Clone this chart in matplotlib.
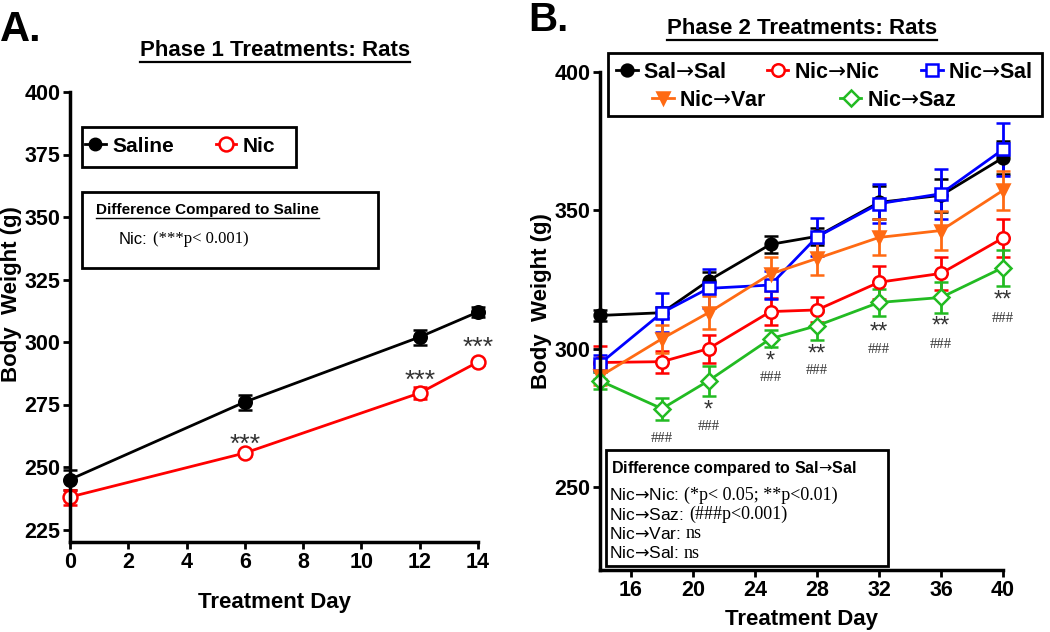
import matplotlib
matplotlib.use('Agg')
import matplotlib.pyplot as plt
from matplotlib.patches import Rectangle
from matplotlib.lines import Line2D

plt.rcParams['font.family'] = ['Liberation Sans', 'DejaVu Sans']
plt.rcParams['mathtext.fontset'] = 'dejavusans'

ARR = '$\u2192$'

# ---- Phase 1 data ----
days_a = [0, 6, 12, 14]
saline = [245, 276, 302, 312]
saline_err = [4, 3, 3, 2]
nic = [238, 255.6, 279.6, 292]
nic_err = [3, 1, 2.5, 1]
stars_a = ['', '***', '***', '***']
stars_a_y = [0, 259, 284.5, 297.5]

# ---- Phase 2 data ----
days_b = [14, 18, 21, 25, 28, 32, 36, 40]
sal_sal = [312, 313, 324.6, 337.7, 340.6, 352.9, 355.4, 369]
sal_sal_err = [2, 2, 3, 3, 3, 6, 6, 6]
nic_nic = [295, 295.3, 300, 313.4, 314, 324, 327.2, 340]
nic_nic_err = [6, 4, 5, 5, 4.5, 6, 6, 7]
nic_sal = [294.6, 313, 321.8, 323, 340.4, 352.4, 356, 372]
nic_sal_err = [3, 7, 7, 5, 7, 7, 9, 9.5]
nic_var = [290, 303.6, 313, 327, 332.6, 340.2, 342.7, 357.2]
nic_var_err = [3, 5, 6, 6, 6, 6.5, 7, 7]
nic_saz = [288.4, 278.3, 288.4, 303.6, 308.3, 316.7, 318.5, 329.3]
nic_saz_err = [3, 4, 5.5, 3, 5, 5, 5.5, 6.5]
stars_b = ['', '', '*', '*', '**', '**', '**', '**']
stars_b_y = [0, 0, 277.5, 295.5, 298, 306, 308, 317.5]
hash_b = ['', '###', '###', '###', '###', '###', '###', '###']
hash_b_y = [0, 267.7, 271.7, 289.5, 292, 299.6, 301.5, 311]

fig = plt.figure(figsize=(10.5, 6.32), dpi=100)


def style_axes(ax):
    for s in ['top', 'right']:
        ax.spines[s].set_visible(False)
    for s in ['left', 'bottom']:
        ax.spines[s].set_linewidth(2.5)
    ax.tick_params(width=2, length=5, labelsize=15.5, pad=2)
    for lab in ax.get_xticklabels() + ax.get_yticklabels():
        lab.set_fontweight('bold')


def eb(ax, x, y, e, color, marker, ms, mfc):
    return ax.errorbar(x, y, yerr=e, color=color, marker=marker, ms=ms, mfc=mfc,
                       mec=color, mew=1.8, lw=2, elinewidth=2, capsize=5, capthick=2,
                       clip_on=False)


# ===================== Panel A =====================
axA = fig.add_axes([70 / 1050, 1 - 542 / 632, 408 / 1050, 450 / 632])
eb(axA, days_a, saline, saline_err, 'black', 'o', 9, 'black')
eb(axA, days_a, nic, nic_err, 'red', 'o', 10, 'white')
for d, s, yy in zip(days_a, stars_a, stars_a_y):
    if s:
        axA.text(d, yy, s, ha='center', va='center', fontsize=19, color='#333333')
axA.set_xlim(0, 14)
axA.set_ylim(220, 400)
axA.set_xticks(range(0, 15, 2))
axA.set_yticks(range(225, 401, 25))
style_axes(axA)
axA.set_xlabel('Treatment Day', fontsize=16, fontweight='bold', labelpad=14)
axA.set_ylabel('Body  Weight (g)', fontsize=16, fontweight='bold')
axA.yaxis.set_label_coords(-0.118, 0.55)

hA = [Line2D([], [], color='black', marker='o', ms=9, lw=2),
      Line2D([], [], color='red', marker='o', ms=10, mfc='white', mew=1.8, lw=2)]
axA.legend(hA, ['Saline', 'Nic'], ncol=2, loc='center left', frameon=False,
           bbox_to_anchor=(85 / 1050, 1 - 146 / 632), bbox_transform=fig.transFigure,
           prop={'weight': 'bold', 'size': 15}, handlelength=1.0, handletextpad=0.3,
           columnspacing=2.0, borderpad=0, borderaxespad=0)
fig.add_artist(Rectangle((82 / 1050, 1 - 167 / 632), 214 / 1050, 40 / 632,
                         transform=fig.transFigure, fill=False, lw=2, ec='black'))
fig.add_artist(Rectangle((82 / 1050, 1 - 268 / 632), 296 / 1050, 76 / 632,
                         transform=fig.transFigure, fill=False, lw=2, ec='black'))

# ===================== Panel B =====================
axB = fig.add_axes([600 / 1050, 1 - 570 / 632, 403 / 1050, 498 / 632])
eb(axB, days_b, sal_sal, sal_sal_err, 'black', 'o', 8.5, 'black')
eb(axB, days_b, nic_nic, nic_nic_err, 'red', 'o', 9, 'white')
eb(axB, days_b, nic_sal, nic_sal_err, 'blue', 's', 9, 'white')
eb(axB, days_b, nic_var, nic_var_err, '#FF6A13', 'v', 9, '#FF6A13')
eb(axB, days_b, nic_saz, nic_saz_err, '#22BB22', 'D', 8, 'white')
for d, s, yy in zip(days_b, stars_b, stars_b_y):
    if s:
        axB.text(d, yy, s, ha='center', va='center', fontsize=17, color='#333333')
for d, s, yy in zip(days_b, hash_b, hash_b_y):
    if s:
        axB.text(d, yy, s, ha='center', va='center', fontsize=10.5,
                 family='Liberation Serif', color='#333333')
axB.set_xlim(14, 40)
axB.set_ylim(220, 400)
axB.set_xticks(range(16, 41, 4))
axB.set_yticks([250, 300, 350, 400])
style_axes(axB)
axB.set_xlabel('Treatment Day', fontsize=16, fontweight='bold', labelpad=6)
axB.set_ylabel('Body  Weight (g)', fontsize=16, fontweight='bold')
axB.yaxis.set_label_coords(-0.118, 0.54)


def h(color, marker, ms, mfc):
    return Line2D([], [], color=color, marker=marker, ms=ms, mfc=mfc, mec=color, mew=1.8, lw=2)


legB1 = axB.legend([h('black', 'o', 8.5, 'black'), h('red', 'o', 9, 'white'), h('blue', 's', 9, 'white')],
                   ['Sal' + ARR + 'Sal', 'Nic' + ARR + 'Nic', 'Nic' + ARR + 'Sal'], ncol=3,
                   loc='center left', frameon=False, bbox_to_anchor=(616 / 1050, 1 - 72 / 632),
                   bbox_transform=fig.transFigure, prop={'weight': 'bold', 'size': 15.5},
                   handlelength=1.0, handletextpad=0.25, columnspacing=1.9,
                   borderpad=0, borderaxespad=0)
axB.add_artist(legB1)
axB.legend([h('#FF6A13', 'v', 9, '#FF6A13'), h('#22BB22', 'D', 8, 'white')],
           ['Nic' + ARR + 'Var', 'Nic' + ARR + 'Saz'], ncol=2, loc='center left',
           frameon=False, bbox_to_anchor=(652 / 1050, 1 - 100 / 632),
           bbox_transform=fig.transFigure, prop={'weight': 'bold', 'size': 15.5},
           handlelength=1.0, handletextpad=0.25, columnspacing=3.4,
           borderpad=0, borderaxespad=0)
fig.add_artist(Rectangle((608 / 1050, 1 - 116 / 632), 434 / 1050, 63 / 632,
                         transform=fig.transFigure, fill=False, lw=2, ec='black'))
fig.add_artist(Rectangle((606 / 1050, 1 - 566 / 632), 282 / 1050, 116 / 632,
                         transform=fig.transFigure, fill=False, lw=2, ec='black'))

# ---- texts ----
fig.text(0 / 1050, 1 - 30 / 632, 'A.', fontsize=30, fontweight='bold', va='center')
fig.text(528 / 1050, 1 - 20 / 632, 'B.', fontsize=29, fontweight='bold', va='center')
t1 = fig.text(275 / 1050, 1 - 50 / 632, 'Phase 1 Treatments: Rats', fontsize=16,
              fontweight='bold', ha='center', va='center')
t2 = fig.text(802 / 1050, 1 - 28 / 632, 'Phase 2 Treatments: Rats', fontsize=16,
              fontweight='bold', ha='center', va='center')
t3 = fig.text(96 / 1050, 1 - 210 / 632, 'Difference Compared to Saline', fontsize=11,
              fontweight='bold', va='center')
a = fig.text(119 / 1050, 1 - 239 / 632, 'Nic:', fontsize=12, va='center')
pa = fig.text(0, 0, '(***p< 0.001)', fontsize=12, family='Liberation Serif', va='center')

fig.text(611 / 1050, 1 - 469 / 632, 'Difference compared to Sal' + ARR + 'Sal', fontsize=11.5,
         fontweight='bold', va='center')
lines_b = [('Nic' + ARR + 'Nic:', '(*p< 0.05; **p<0.01)'),
           ('Nic' + ARR + 'Saz:', '(###p<0.001)'),
           ('Nic' + ARR + 'Var:', 'ns'),
           ('Nic' + ARR + 'Sal:', 'ns')]
pairs = [(a, pa)]
for i, (lab, rest) in enumerate(lines_b):
    yy = 1 - (495 + 19.5 * i) / 632
    tl = fig.text(609 / 1050, yy, lab, fontsize=12.5, va='center')
    tr = fig.text(0, yy, rest, fontsize=13, family='Liberation Serif', va='center')
    pairs.append((tl, tr))

fig.canvas.draw()
r = fig.canvas.get_renderer()
for tl, tr in pairs:
    bb = tl.get_window_extent(r)
    tr.set_x(bb.x1 / fig.bbox.width + 5 / 1050)
    tr.set_y(tl.get_position()[1])

# underlines
for t in [t1, t2, t3]:
    bb = t.get_window_extent(r)
    yline = (bb.y0 - 1) / fig.bbox.height
    fig.add_artist(Line2D([bb.x0 / fig.bbox.width, bb.x1 / fig.bbox.width], [yline, yline],
                          transform=fig.transFigure, color='black', lw=1.6 if t is not t3 else 1))

fig.savefig('out.png', dpi=100)
